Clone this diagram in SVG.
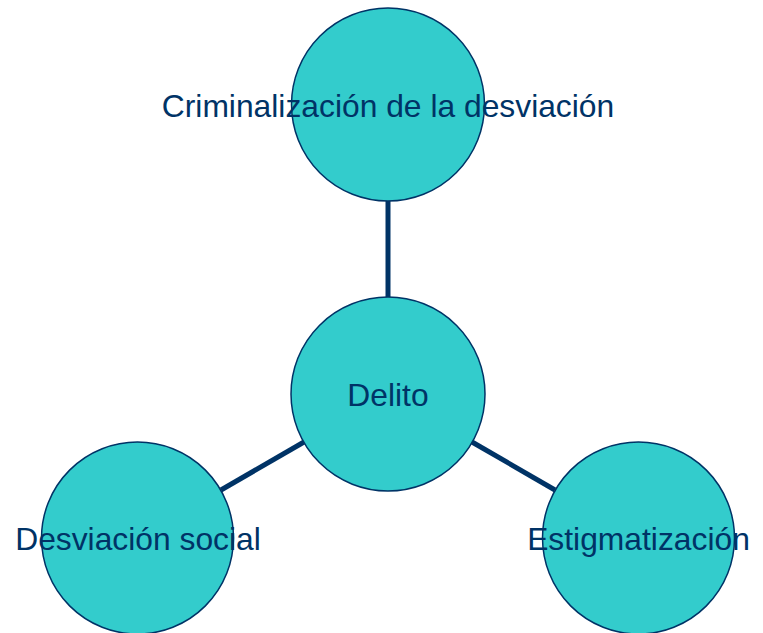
<svg xmlns="http://www.w3.org/2000/svg" width="763" height="633" viewBox="0 0 763 633">
<style>
.node{fill:#33CCCC;stroke:#003366;stroke-width:1.5}
.lbl{font-family:"Liberation Sans",Arial,sans-serif;font-size:31.8px;fill:#003366;text-anchor:middle}
.conn{stroke:#003366;stroke-width:5;fill:none}
</style>
<rect width="763" height="633" fill="#ffffff"/>
<g id="connectors">
<line class="conn" x1="388" y1="201" x2="388" y2="297"/>
<line class="conn" x1="304" y1="442" x2="221" y2="490"/>
<line class="conn" x1="472" y1="442" x2="555" y2="490"/>
</g>
<g id="node-top">
<circle class="node" cx="388" cy="104.5" r="96.5"/>
<text class="lbl" x="388" y="116.5">Criminalización de la desviación</text>
</g>
<g id="node-center">
<circle class="node" cx="388" cy="394" r="97"/>
<text class="lbl" x="388" y="406">Delito</text>
</g>
<g id="node-left">
<circle class="node" cx="137.5" cy="538" r="96"/>
<text class="lbl" x="138" y="549.5">Desviación social</text>
</g>
<g id="node-right">
<circle class="node" cx="638.5" cy="538" r="96"/>
<text class="lbl" x="638.5" y="549.5">Estigmatización</text>
</g>
</svg>
